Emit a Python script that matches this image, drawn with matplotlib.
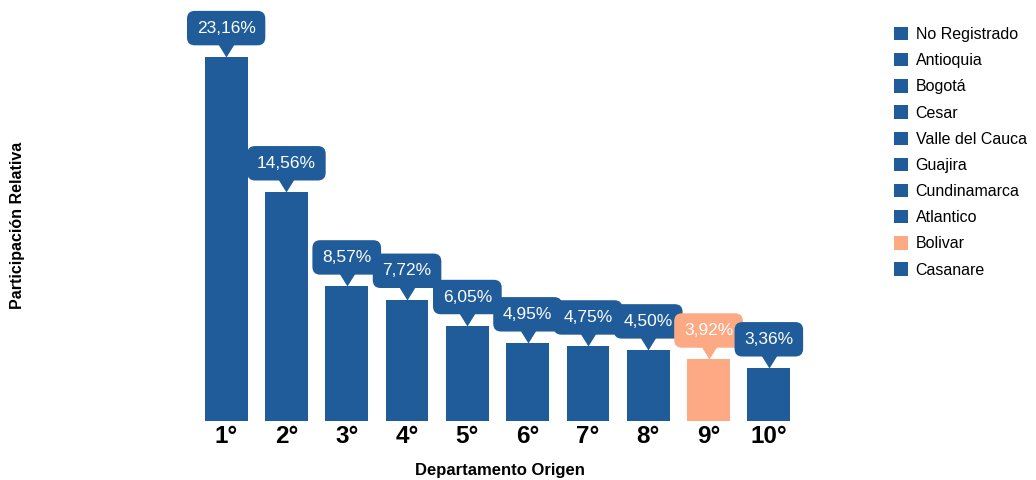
import numpy as np
import matplotlib
matplotlib.use('Agg')
import matplotlib.pyplot as plt
from matplotlib.patches import Patch
from matplotlib.path import Path

plt.rcParams['font.family'] = ['Liberation Sans', 'DejaVu Sans']

departamentos = ['No Registrado', 'Antioquia', 'Bogotá', 'Cesar', 'Valle del Cauca',
                 'Guajira', 'Cundinamarca', 'Atlantico', 'Bolivar', 'Casanare']
ranking = ['1°', '2°', '3°', '4°', '5°', '6°', '7°', '8°', '9°', '10°']
participacion = [23.16, 14.56, 8.57, 7.72, 6.05, 4.95, 4.75, 4.50, 3.92, 3.36]
resaltado = 'Bolivar'

azul = '#1f5c99'
salmon = '#fca984'
colores = [salmon if d == resaltado else azul for d in departamentos]

fig = plt.figure(figsize=(10.36, 4.8), dpi=100)
ax = fig.add_axes([196 / 1036, 59 / 480, 603 / 1036, 411 / 480])

x = np.arange(len(participacion))
ax.bar(x, participacion, width=0.71, color=colores, zorder=2)
ax.set_xlim(-0.5, len(x) - 0.5)
ax.set_ylim(0, 26.15)

# callouts with pointer
puntero = Path([(0, 0), (-0.62, 1), (0.62, 1), (0, 0)])
for i, v in enumerate(participacion):
    ax.scatter(i, v, marker=puntero, s=19 ** 2, color=colores[i], linewidths=0, zorder=3, clip_on=False)
    ax.annotate(f'{v:.2f}%'.replace('.', ','), xy=(i, v), xytext=(0, 20.8),
                textcoords='offset points', ha='center', va='center',
                fontsize=12.5, color='white', zorder=4, annotation_clip=False,
                bbox=dict(boxstyle='round,pad=0.56,rounding_size=0.45', fc=colores[i], ec='none'))

ax.set_xticks(x)
ax.set_xticklabels(ranking, fontsize=17.5, fontweight='bold')
ax.tick_params(axis='x', length=0, pad=3)
ax.set_yticks([])
for s in ax.spines.values():
    s.set_visible(False)

fig.text(500 / 1036, 1 - 470 / 480, 'Departamento Origen', ha='center', va='center',
         fontsize=12, fontweight='bold')
fig.text(18 / 1036, 1 - 225 / 480, 'Participación Relativa', ha='center', va='center',
         rotation=90, fontsize=11.5, fontweight='bold')

handles = [Patch(facecolor=c, edgecolor='none') for c in colores]
fig.legend(handles, departamentos, loc='upper left', bbox_to_anchor=(894 / 1036, 1 - 27 / 480),
           frameon=False, fontsize=11.5, handlelength=0.9, handleheight=0.9,
           handletextpad=0.45, labelspacing=0.69, borderaxespad=0, borderpad=0)

fig.savefig('out.png', dpi=100)
